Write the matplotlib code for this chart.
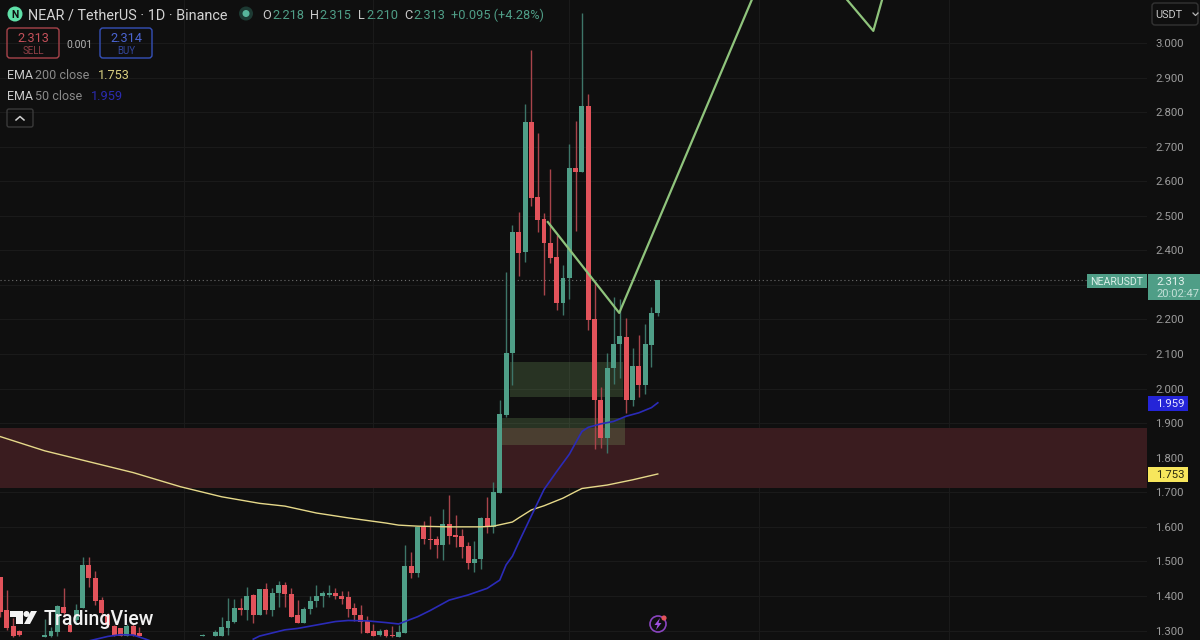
import numpy as np
import matplotlib
matplotlib.use("Agg")
import matplotlib.pyplot as plt
from matplotlib.patches import Rectangle, FancyBboxPatch, Circle, Polygon

plt.rcParams["font.family"] = ["Roboto", "DejaVu Sans"]

nan = float("nan")

# daily candles, oldest first (nan = below the visible range)
opens = [1.454, 1.358, 1.313, 1.300, nan, nan, nan, 1.282, 1.285, 1.297, 1.367, 1.316, 1.330, 1.365, 1.490,
         1.453, 1.389, 1.345, 1.313, 1.307, 1.284, 1.313, 1.292, nan, nan, nan, nan, nan, nan, nan,
         nan, nan, 1.284, nan, 1.283, 1.285, 1.307, 1.326, 1.366, 1.360,
         1.403, 1.345, 1.419, 1.358, 1.408, 1.432, 1.406, 1.344, 1.323, 1.361, 1.384, 1.400, 1.403, 1.408, 1.400,
         1.396, 1.364, 1.345, 1.328, 1.299, 1.287, 1.301, 1.286, 1.282, 1.294, 1.487, 1.467, 1.599, 1.566, 1.564,
         1.548, 1.608, 1.576, 1.573, 1.545, 1.494, 1.506, 1.625, 1.600,
         1.699, 1.924, 2.102, 2.452, 2.396, 2.772, 2.553, 2.490, 2.420, 2.380, 2.249, 2.319, 2.637, 2.628, 2.818,
         2.200, 1.967, 1.856, 2.059, 2.129, 2.150, 1.967, 2.065, 2.009, 2.126, 2.218]
highs = [1.455, 1.416, 1.336, 1.302, nan, nan, nan, 1.333, 1.310, 1.375, 1.422, 1.316, 1.377, 1.512, 1.512,
         1.471, 1.398, 1.350, 1.315, 1.307, 1.318, 1.318, 1.311, nan, nan, nan, nan, nan, nan, nan,
         nan, nan, 1.290, nan, 1.302, 1.340, 1.393, 1.392, 1.393, 1.425,
         1.406, 1.419, 1.437, 1.422, 1.443, 1.441, 1.422, 1.388, 1.367, 1.400, 1.432, 1.413, 1.432, 1.422, 1.413,
         1.413, 1.379, 1.374, 1.342, 1.319, 1.303, 1.303, 1.313, 1.316, 1.547, 1.528, 1.600, 1.618, 1.631, 1.574,
         1.651, 1.692, 1.634, 1.593, 1.557, 1.560, 1.629, 1.685, 1.729,
         1.967, 2.338, 2.473, 2.510, 2.823, 2.980, 2.741, 2.507, 2.634, 2.444, 2.358, 2.708, 2.775, 3.086, 2.852,
         2.305, 2.006, 2.102, 2.264, 2.258, 2.203, 2.117, 2.155, 2.187, 2.237, 2.315]
lows = [1.340, 1.302, 1.280, 1.283, nan, nan, nan, 1.282, 1.282, 1.285, 1.340, 1.297, 1.320, 1.365, 1.425,
        1.374, 1.345, 1.310, 1.283, 1.284, 1.284, 1.283, 1.282, nan, nan, nan, nan, nan, nan, nan,
        nan, nan, 1.283, nan, 1.283, 1.283, 1.287, 1.321, 1.345, 1.331,
        1.323, 1.345, 1.348, 1.342, 1.367, 1.367, 1.340, 1.323, 1.323, 1.348, 1.369, 1.369, 1.396, 1.390, 1.377,
        1.338, 1.329, 1.292, 1.292, 1.284, 1.284, 1.282, 1.282, 1.282, 1.292, 1.451, 1.456, 1.550, 1.535, 1.509,
        1.504, 1.550, 1.541, 1.509, 1.477, 1.470, 1.477, 1.581, 1.581,
        1.699, 1.918, 2.010, 2.326, 2.367, 2.527, 2.454, 2.270, 2.364, 2.226, 2.213, 2.258, 2.457, 2.628, 2.170,
        1.824, 1.827, 1.813, 2.013, 2.030, 1.930, 1.950, 1.977, 1.984, 2.062, 2.210]
closes = [1.355, 1.307, 1.283, 1.286, nan, nan, nan, 1.286, 1.300, 1.370, 1.350, 1.297, 1.360, 1.490, 1.451,
          1.384, 1.350, 1.315, 1.284, 1.284, 1.313, 1.287, 1.284, nan, nan, nan, nan, nan, nan, nan,
          nan, nan, 1.287, nan, 1.296, 1.310, 1.329, 1.366, 1.359, 1.400,
          1.345, 1.419, 1.358, 1.408, 1.432, 1.406, 1.340, 1.323, 1.361, 1.385, 1.401, 1.408, 1.410, 1.400, 1.390,
          1.361, 1.345, 1.326, 1.294, 1.285, 1.299, 1.284, 1.284, 1.295, 1.487, 1.467, 1.599, 1.566, 1.562, 1.548,
          1.608, 1.573, 1.571, 1.543, 1.494, 1.506, 1.625, 1.600, 1.702,
          1.927, 2.102, 2.452, 2.393, 2.772, 2.551, 2.488, 2.420, 2.377, 2.249, 2.319, 2.637, 2.628, 2.818, 2.199,
          1.967, 1.856, 2.059, 2.129, 2.152, 1.967, 2.065, 2.009, 2.129, 2.218, 2.313]

ema200_days = [0, 7, 13, 21, 28.5, 35, 41, 45, 50, 55, 61, 63, 66, 71, 76, 78, 81, 82, 84, 86, 89, 91, 92, 94, 96, 100, 104]
ema200 = [1.861, 1.820, 1.793, 1.757, 1.716, 1.687, 1.668, 1.660, 1.640, 1.626, 1.611, 1.605, 1.602, 1.600, 1.600,
          1.602, 1.614, 1.626, 1.649, 1.661, 1.683, 1.702, 1.711, 1.716, 1.721, 1.736, 1.753]

ema50_days = [14, 17, 19, 21, 23, 24, nan, 40, 41, 45, 47, 50, 53, 55, 58, 61, 63, 64, 66, 68, 71, 74, 77, 79, 80, 81,
              82, 84, 86, 88, 90, 92, 93, 95, 97, 99, 101, 103, 104]
ema50 = [1.270, 1.283, 1.288, 1.287, 1.275, 1.268, nan, 1.275, 1.284, 1.302, 1.306, 1.316, 1.326, 1.329, 1.328, 1.323,
         1.319, 1.326, 1.340, 1.358, 1.388, 1.403, 1.422, 1.446, 1.490, 1.515, 1.555, 1.632, 1.708, 1.76, 1.81, 1.876,
         1.888, 1.898, 1.905, 1.92, 1.93, 1.945, 1.959]

path_days = [86.6, 97.9, 119.2, nan, 133.3, 138.1, 139.7]
path_prices = [2.482, 2.219, 3.139, nan, 3.139, 3.035, 3.139]

price_ticks = np.arange(1.3, 3.01, 0.1)
time_grid = [29, 59, 90, 120, 150]

BG = "#0f0f0f"
GRID = "#1a1a1a"
UP = "#4f9e87"
DOWN = "#e2535b"
UP_WICK = "#3d7568"
DOWN_WICK = "#a8444b"

fig = plt.figure(figsize=(12, 6.4), dpi=100, facecolor=BG)
ax = fig.add_axes([0, 0, 1147 / 1200, 1], facecolor=BG)
ax.set_xlim(-0.07, 181.4)
ax.set_ylim(1.2726, 3.1244)

ax.yaxis.tick_right()
# the 2.300 label sits behind the last price tag, so it stays blank
ax.set_yticks(price_ticks, labels=["" if abs(p - 2.3) < 0.01 else f"{p:.3f}" for p in price_ticks])
ax.tick_params(axis="y", length=0, pad=5.8, labelsize=8.2, labelcolor="#9c9c9c")
ax.set_xticks(time_grid)
ax.tick_params(axis="x", length=0, labelbottom=False)
ax.grid(color=GRID, linewidth=0.8)
ax.set_axisbelow(True)
for s in ax.spines.values():
    s.set_visible(False)

# zones
ax.axhspan(1.711, 1.887, color="#3a1c1f", lw=0, zorder=1)
ax.add_patch(Rectangle((80.6, 1.976), 17.9, 0.101, color="#8fc878", alpha=0.2, lw=0, zorder=1.5))
ax.add_patch(Rectangle((79, 1.837), 19.8, 0.078, color="#8fc878", alpha=0.2, lw=0, zorder=1.5))

# candles
o, h, l, c = map(np.array, (opens, highs, lows, closes))
days = np.arange(len(o))
rising = c >= o
ax.vlines(days, l, h, colors=[UP_WICK if r else DOWN_WICK for r in rising], linewidth=1.0, zorder=3)
ax.bar(days, np.abs(c - o), bottom=np.minimum(o, c), width=0.78,
       color=[UP if r else DOWN for r in rising], linewidth=0, zorder=4)

ax.plot(ema200_days, ema200, color="#e6d98a", linewidth=1.0, zorder=5)
ax.plot(ema50_days, ema50, color="#2b2bb8", linewidth=1.2, zorder=5)
ax.plot(path_days, path_prices, color="#8fc47c", linewidth=1.6, zorder=6)
ax.hlines(closes[-1], -0.07, 172, colors="#6f6f6f", linewidth=0.8, linestyles=(0, (1, 2.5)), zorder=2)

# overlay in pixels for the TradingView chrome
ui = fig.add_axes([0, 0, 1, 1], facecolor="none")
ui.set_xlim(0, 1200)
ui.set_ylim(640, 0)
ui.axis("off")


def _txt(x, y, s, color="#c9c9c9", size=9, ha="left", **kw):
    ui.text(x, y, s, color=color, fontsize=size, ha=ha, va="center_baseline", **kw)


def _box(x, y, w, hh, edge, face="none", r=3, lw=1.0):
    ui.add_patch(FancyBboxPatch((x + r, y + r), w - 2 * r, hh - 2 * r, boxstyle=f"round,pad={r}",
                                edgecolor=edge, facecolor=face, linewidth=lw, mutation_aspect=1))


# header
ui.add_patch(Circle((15, 14), 7.5, color="#5fe0a8", lw=0))
_txt(15, 14, "N", color="#0f0f0f", size=7.5, ha="center", fontweight="bold")
_txt(28, 14, "NEAR / TetherUS · 1D · Binance", color="#d4d4d4", size=10.4)
ui.add_patch(Circle((246, 13.5), 7, color="#1d3a33", lw=0))
ui.add_patch(Circle((246, 13.5), 3.5, color="#57b59b", lw=0))
vals = [(262, "O", "2.218", 10), (310, "H", "2.315", 9), (358, "L", "2.210", 8), (404, "C", "2.313", 9)]
for x, name, v, off in vals:
    _txt(x, 14, name, color="#c9c9c9", size=9.2)
    _txt(x + off, 14, v, color=UP, size=9.2)
_txt(451, 14, "+0.095 (+4.28%)", color=UP, size=9.2)

# sell / buy
_box(7, 28, 52, 30, "#a8444b")
_txt(33, 37.5, "2.313", color="#c4505a", size=9.2, ha="center")
_txt(33, 50, "SELL", color="#8f3f46", size=7, ha="center")
_txt(79, 43.5, "0.001", color="#b5b5b5", size=7.4, ha="center")
_box(100, 28, 52, 30, "#3550b8")
_txt(126, 37.5, "2.314", color="#4a64d0", size=9.2, ha="center")
_txt(126, 50, "BUY", color="#34479c", size=7, ha="center")

# indicator legend
_txt(7, 74, "EMA", color="#c9c9c9", size=9)
_txt(35, 74, "200 close", color="#8a8a8a", size=9)
_txt(98, 74, "1.753", color="#d8cf80", size=9.2)
_txt(7, 95.5, "EMA", color="#c9c9c9", size=9)
_txt(35, 95.5, "50 close", color="#8a8a8a", size=9)
_txt(91, 95.5, "1.959", color="#2b2bb0", size=9.2)
_box(7, 109, 26, 18, "#3a3a3a", r=2)
ui.plot([16, 20, 24], [120, 116.5, 120], color="#d0d0d0", linewidth=1.1)

# right side tags
_box(1152, 3, 46, 22, "#333333", r=3)
_txt(1155, 14.5, "USDT", color="#c9c9c9", size=7.8)
ui.plot([1193, 1195.5, 1198], [13, 15.5, 13], color="#b5b5b5", linewidth=0.9)
ui.add_patch(Rectangle((1087, 273.5), 60, 14.5, color=UP, lw=0))
_txt(1117, 281, "NEARUSDT", color="#dcefe9", size=7.6, ha="center")
ui.add_patch(Rectangle((1148, 273.5), 52, 26.5, color=UP, lw=0))
_txt(1156, 281, "2.313", color="#e4f2ee", size=8.2)
_txt(1156, 293, "20:02:47", color="#c4e0d8", size=8)
ui.add_patch(Rectangle((1148, 396), 40, 14.5, color="#2424d8", lw=0))
_txt(1156, 403, "1.959", color="#e6e6ff", size=8.2)
ui.add_patch(Rectangle((1148, 467), 40, 15, color="#f7e65c", lw=0))
_txt(1156, 474.5, "1.753", color="#2a2a10", size=8.2)

# logo
ui.add_patch(Polygon([(10, 611), (22.5, 611), (22.5, 624), (16, 624), (16, 617), (10, 617)], color="#f2f2f2", lw=0))
ui.add_patch(Circle((26.5, 614), 3, color="#f2f2f2", lw=0))
ui.add_patch(Polygon([(31, 611), (37, 611), (30, 624), (24, 624)], color="#f2f2f2", lw=0))
_txt(44, 617.5, "TradingView", color="#f2f2f2", size=14.1, fontweight="medium")

# lightning badge
ui.add_patch(Circle((658, 624), 8, edgecolor="#8a45c0", facecolor="none", linewidth=1.2))
ui.add_patch(Polygon([(660, 618), (654.5, 625), (657.5, 625), (656, 630), (661.5, 623), (658.5, 623)],
                     color="#a050e0", lw=0))
ui.add_patch(Circle((664, 618), 2.6, color="#e2535b", lw=0))

fig.savefig("out.png", dpi=100, facecolor=BG)
